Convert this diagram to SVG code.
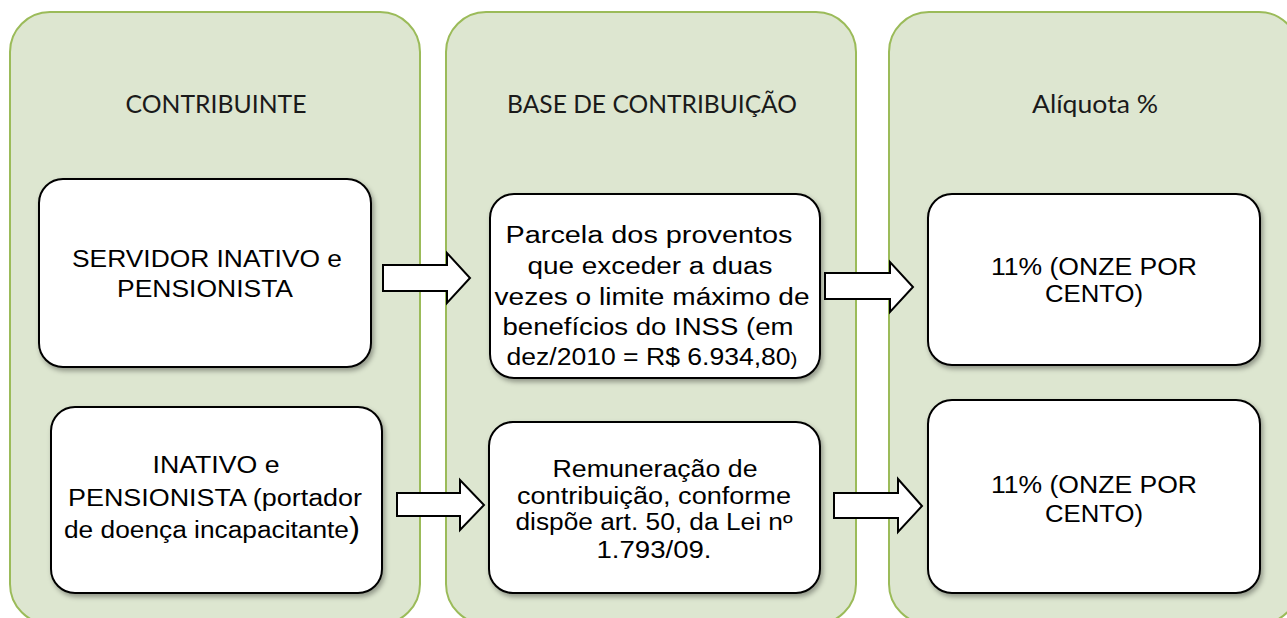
<svg xmlns="http://www.w3.org/2000/svg" width="1287" height="618" viewBox="0 0 1287 618">
<defs>
<filter id="sh" x="-10%" y="-10%" width="120%" height="125%">
<feDropShadow dx="2" dy="3" stdDeviation="2.5" flood-color="#000" flood-opacity="0.35"/>
</filter>
<style>
.panel{fill:#DDE6D0;stroke:#9BBB59;stroke-width:2}
.box{fill:#fff;stroke:#000;stroke-width:2;filter:url(#sh)}
.hdr{font-family:Lato,"Open Sans",sans-serif;font-size:25px;fill:#1a1a1a;text-anchor:middle}
.txt{font-family:"Liberation Sans",Arial,sans-serif;font-size:23px;fill:#000;text-anchor:middle}
.arr{fill:#fff;stroke:#000;stroke-width:2;stroke-linejoin:miter}
</style>
</defs>
<rect width="1287" height="618" fill="#fff"/>
<g id="panel-contribuinte">
<rect class="panel" x="10" y="12" width="410" height="612" rx="40"/>
<text class="hdr" x="216" y="113" textLength="181" lengthAdjust="spacingAndGlyphs">CONTRIBUINTE</text>
</g>
<g id="panel-base">
<rect class="panel" x="446" y="12" width="410" height="612" rx="40"/>
<text class="hdr" x="652" y="113" textLength="290" lengthAdjust="spacingAndGlyphs">BASE DE CONTRIBUIÇÃO</text>
</g>
<g id="panel-aliquota">
<rect class="panel" x="889" y="12" width="410" height="612" rx="40"/>
<text class="hdr" x="1095" y="113" textLength="126" lengthAdjust="spacingAndGlyphs">Alíquota %</text>
</g>
<g id="node-servidor">
<rect class="box" x="39" y="179" width="332" height="188" rx="24"/>
<text class="txt" x="207" y="267" textLength="270" lengthAdjust="spacingAndGlyphs">SERVIDOR INATIVO e</text>
<text class="txt" x="205" y="297" textLength="176" lengthAdjust="spacingAndGlyphs">PENSIONISTA</text>
</g>
<g id="node-inativo">
<rect class="box" x="51" y="407" width="331" height="186" rx="24"/>
<text class="txt" x="216" y="473" textLength="127" lengthAdjust="spacingAndGlyphs">INATIVO e</text>
<text class="txt" x="215" y="506" textLength="294" lengthAdjust="spacingAndGlyphs">PENSIONISTA (portador</text>
<text class="txt" x="212" y="538" textLength="296" lengthAdjust="spacingAndGlyphs">de doença incapacitante<tspan font-size="29">)</tspan></text>
</g>
<g id="node-parcela">
<rect class="box" x="490" y="194" width="330" height="184" rx="24"/>
<text class="txt" x="649" y="243" textLength="287" lengthAdjust="spacingAndGlyphs">Parcela dos proventos</text>
<text class="txt" x="650" y="274" textLength="245" lengthAdjust="spacingAndGlyphs">que exceder a duas</text>
<text class="txt" x="652" y="305" textLength="315" lengthAdjust="spacingAndGlyphs">vezes o limite máximo de</text>
<text class="txt" x="648" y="335" textLength="291" lengthAdjust="spacingAndGlyphs">benefícios do INSS (em</text>
<text class="txt" x="652" y="365" textLength="291" lengthAdjust="spacingAndGlyphs">dez/2010 = R$ 6.934,80<tspan font-size="18">)</tspan></text>
</g>
<g id="node-remuneracao">
<rect class="box" x="489" y="422" width="331" height="171" rx="24"/>
<text class="txt" x="655" y="477" textLength="205" lengthAdjust="spacingAndGlyphs">Remuneração de</text>
<text class="txt" x="654" y="504" textLength="274" lengthAdjust="spacingAndGlyphs">contribuição, conforme</text>
<text class="txt" x="654" y="530" textLength="277" lengthAdjust="spacingAndGlyphs">dispõe art. 50, da Lei nº</text>
<text class="txt" x="654" y="558" textLength="115" lengthAdjust="spacingAndGlyphs">1.793/09.</text>
</g>
<g id="node-aliquota1">
<rect class="box" x="928" y="194" width="332" height="171" rx="24"/>
<text class="txt" x="1094" y="275" textLength="206" lengthAdjust="spacingAndGlyphs">11% (ONZE POR</text>
<text class="txt" x="1094" y="302" textLength="98" lengthAdjust="spacingAndGlyphs">CENTO)</text>
</g>
<g id="node-aliquota2">
<rect class="box" x="928" y="400" width="332" height="193" rx="24"/>
<text class="txt" x="1094" y="493" textLength="206" lengthAdjust="spacingAndGlyphs">11% (ONZE POR</text>
<text class="txt" x="1094" y="522" textLength="98" lengthAdjust="spacingAndGlyphs">CENTO)</text>
</g>
<g id="connectors">
<polygon class="arr" points="383,265 447,265 447,253 470,278 447,303 447,291 383,291"/>
<polygon class="arr" points="825,273 890,273 890,262 913,287 890,312 890,299 825,299"/>
<polygon class="arr" points="397,493 460,493 460,480 484,505 460,530 460,516 397,516"/>
<polygon class="arr" points="834,493 898,493 898,479 922,506 898,532 898,518 834,518"/>
</g>
</svg>
